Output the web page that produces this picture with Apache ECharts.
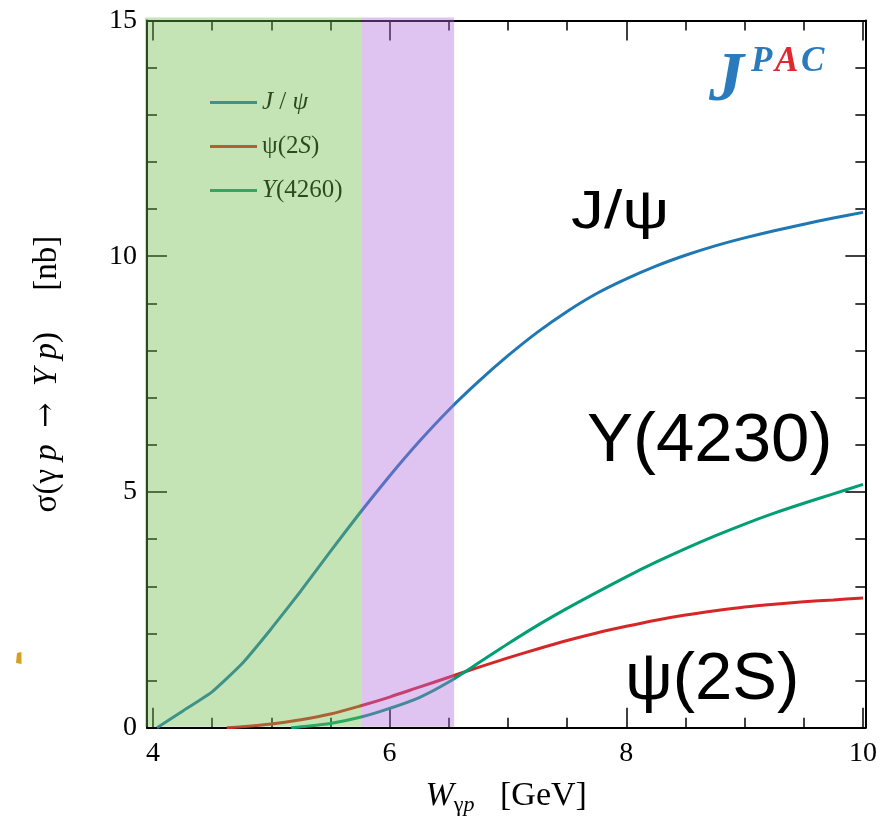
<!DOCTYPE html>
<html>
<head>
<meta charset="utf-8">
<script src="https://cdn.jsdelivr.net/npm/echarts@6/dist/echarts.min.js"></script>
<style>
  html, body { margin: 0; padding: 0; background: #fff; }
  #main { width: 880px; height: 829px; }
</style>
</head>
<body>
<div id="main"></div>
<script>
// Photoproduction cross sections sigma(gamma p -> Y p) [nb] versus W_gamma p [GeV]
const jpsiW = [4.035, 4.25, 4.5, 4.75, 5.0, 5.25, 5.5, 5.75, 6.0, 6.25, 6.5, 6.75, 7.0, 7.25, 7.5, 7.75, 8.0, 8.25, 8.5, 8.75, 9.0, 9.25, 9.5, 9.75, 10.0];
const jpsiSigma = [0, 0.35, 0.76, 1.35, 2.10, 2.90, 3.74, 4.56, 5.34, 6.07, 6.74, 7.34, 7.89, 8.39, 8.83, 9.21, 9.52, 9.79, 10.02, 10.22, 10.39, 10.54, 10.68, 10.81, 10.93];

const psi2sW = [4.624, 4.75, 5.0, 5.25, 5.5, 5.75, 6.0, 6.25, 6.5, 6.75, 7.0, 7.25, 7.5, 7.75, 8.0, 8.25, 8.5, 8.75, 9.0, 9.25, 9.5, 9.75, 10.0];
const psi2sSigma = [0, 0.02, 0.08, 0.17, 0.29, 0.46, 0.65, 0.86, 1.07, 1.28, 1.48, 1.67, 1.85, 2.01, 2.15, 2.28, 2.39, 2.48, 2.56, 2.62, 2.67, 2.71, 2.75];

const y4230W = [5.168, 5.25, 5.5, 5.75, 6.0, 6.25, 6.5, 6.75, 7.0, 7.25, 7.5, 7.75, 8.0, 8.25, 8.5, 8.75, 9.0, 9.25, 9.5, 9.75, 10.0];
const y4230Sigma = [0, 0.02, 0.09, 0.22, 0.41, 0.64, 0.97, 1.37, 1.78, 2.17, 2.53, 2.87, 3.20, 3.51, 3.80, 4.07, 4.32, 4.55, 4.76, 4.96, 5.16];

const seriesNames = ['J/ψ', 'ψ(2S)', 'Y(4260)'];
const seriesColors = ['#1f77b4', '#d62728', '#009e73'];
const seriesSmooth = [0.15, 0.3, 0.3];

// Shaded energy windows [W from, W to]
const bandLow = [3.95, 5.76];
const bandHigh = [5.76, 6.545];
const bandColors = ['rgba(110,188,70,0.4)', 'rgba(175,105,218,0.4)'];

const xMin = 3.95, xMax = 10.02;
const yMin = 0, yMax = 15;
const xMajorTicks = [4, 6, 8, 10];
const xMinorTicks = [4.5, 5, 5.5, 6.5, 7, 7.5, 8.5, 9, 9.5];

const SERIF = "'Liberation Serif', 'Times New Roman', serif";

const chart = echarts.init(document.getElementById('main'), null, { renderer: 'canvas' });

const pairs = (xs, ys) => xs.map((x, i) => [x, ys[i]]);

function xAxisDef(position, major) {
  return {
    type: 'value', position: position, min: xMin, max: xMax,
    axisLine: { show: major, onZero: false, lineStyle: { color: '#000', width: 2 } },
    axisTick: {
      show: true, inside: true, length: major ? 20 : 10,
      customValues: major ? xMajorTicks : xMinorTicks,
      lineStyle: { color: '#000', width: 1.5 }
    },
    axisLabel: (position === 'bottom' && major) ? {
      show: true, customValues: xMajorTicks, margin: 12,
      fontFamily: SERIF, fontSize: 28, color: '#000'
    } : { show: false },
    splitLine: { show: false }
  };
}

function yAxisDef(position) {
  return {
    type: 'value', position: position, min: yMin, max: yMax, interval: 5,
    axisLine: { show: true, onZero: false, lineStyle: { color: '#000', width: 2 } },
    axisTick: { show: true, inside: true, length: 20, lineStyle: { color: '#000', width: 1.5 } },
    minorTick: { show: true, splitNumber: 5, length: 10, lineStyle: { color: '#000', width: 1.5 } },
    axisLabel: position === 'left' ? {
      show: true, margin: 10, fontFamily: SERIF, fontSize: 28, color: '#000'
    } : { show: false },
    splitLine: { show: false },
    minorSplitLine: { show: false }
  };
}

const xAxes = [xAxisDef('bottom', true), xAxisDef('bottom', false), xAxisDef('top', true), xAxisDef('top', false)];
Object.assign(xAxes[0], {
  name: '{i|W}{s|γ}{si|p}{n|   [GeV]}',
  nameLocation: 'middle', nameGap: 48,
  nameTextStyle: {
    fontFamily: SERIF, fontSize: 34, color: '#000',
    rich: {
      i: { fontFamily: SERIF, fontSize: 34, fontStyle: 'italic', lineHeight: 40 },
      n: { fontFamily: SERIF, fontSize: 34, lineHeight: 40 },
      s: { fontFamily: SERIF, fontSize: 22, lineHeight: 40, padding: [20, 0, 0, 0] },
      si: { fontFamily: SERIF, fontSize: 22, fontStyle: 'italic', lineHeight: 40, padding: [20, 0, 0, 0] }
    }
  }
});

const yAxes = [yAxisDef('left'), yAxisDef('right')];
Object.assign(yAxes[0], {
  name: '{n|σ(γ }{i|p}{n|  }{a|→}{n|  }{i|Y}{n| }{i|p}{n|)     [nb]}',
  nameLocation: 'middle', nameGap: 82,
  nameTextStyle: {
    fontFamily: SERIF, fontSize: 33, color: '#000',
    rich: {
      i: { fontFamily: SERIF, fontSize: 33, fontStyle: 'italic', lineHeight: 36 },
      n: { fontFamily: SERIF, fontSize: 33, lineHeight: 36 },
      a: { fontFamily: "'DejaVu Serif', serif", fontSize: 30, lineHeight: 36 }
    }
  }
});

const legendRich = {
  i: { fontFamily: SERIF, fontSize: 25, fontStyle: 'italic', color: '#000', lineHeight: 24 },
  n: { fontFamily: SERIF, fontSize: 25, color: '#000', lineHeight: 24 }
};
const legendText = {
  'J/ψ': '{i|J}{n| / }{i|ψ}',
  'ψ(2S)': '{n|ψ(2}{i|S}{n|)}',
  'Y(4260)': '{i|Y}{n|(4260)}'
};

const lineSeries = [
  [jpsiW, jpsiSigma], [psi2sW, psi2sSigma], [y4230W, y4230Sigma]
].map((d, k) => ({
  type: 'line', name: seriesNames[k], xAxisIndex: 0, yAxisIndex: 0,
  data: pairs(d[0], d[1]),
  symbol: 'none', smooth: seriesSmooth[k], z: 3,
  lineStyle: { color: seriesColors[k], width: 3 },
  itemStyle: { color: seriesColors[k] }
}));

// Translucent bands laid over lines, legend and frame
const bandSeries = {
  type: 'custom', name: 'bands', xAxisIndex: 0, yAxisIndex: 0,
  z: 20, silent: true,
  data: bandLow.map((lo, i) => [lo, bandHigh[i], i]),
  encode: { x: [0, 1] },
  renderItem: function (params, api) {
    const i = api.value(2);
    const p0 = api.coord([api.value(0), yMax]);
    const p1 = api.coord([api.value(1), yMin]);
    const left = i === 0 ? p0[0] - 2 : p0[0];
    const top = p0[1] - 3;
    const bottom = p1[1] - 1;
    return {
      type: 'rect',
      shape: { x: left, y: top, width: p1[0] - left, height: bottom - top },
      style: { fill: bandColors[i] }
    };
  }
};

const option = {
  animation: false,
  backgroundColor: '#fff',
  grid: { left: 147, right: 14.5, top: 20.5, bottom: 101.3, containLabel: false },
  xAxis: xAxes,
  yAxis: yAxes,
  legend: {
    data: seriesNames,
    orient: 'vertical', left: 210, top: 90, padding: 0,
    icon: 'rect', itemWidth: 47, itemHeight: 3, itemGap: 19,
    formatter: name => legendText[name],
    textStyle: { fontFamily: SERIF, fontSize: 25, color: '#000', rich: legendRich }
  },
  series: lineSeries.concat([bandSeries]),
  graphic: [
    { type: 'text', left: 709, top: 47, z: 30,
      style: { text: 'J', font: "italic bold 70px 'Liberation Serif'", fill: '#2a7bbd' } },
    { type: 'text', left: 751, top: 44, z: 30,
      style: { text: 'P', font: "italic bold 35px 'Liberation Serif'", fill: '#2a7bbd' } },
    { type: 'text', left: 775, top: 44, z: 30,
      style: { text: 'A', font: "italic bold 35px 'Liberation Serif'", fill: '#e0282e' } },
    { type: 'text', left: 801, top: 44, z: 30,
      style: { text: 'C', font: "italic bold 35px 'Liberation Serif'", fill: '#2a7bbd' } },
    { type: 'text', left: 571, top: 186, z: 30, scaleX: 1.22,
      style: { text: 'J/ψ', font: "54px 'Liberation Sans'", fill: '#000' } },
    { type: 'text', left: 587, top: 407, z: 30,
      style: { text: 'Y(4230)', font: "69px 'Liberation Sans'", fill: '#000' } },
    { type: 'text', left: 625, top: 647, z: 30,
      style: { text: 'ψ(2S)', font: "67px 'Liberation Sans'", fill: '#000' } },
    { type: 'polygon', z: 30,
      shape: { points: [[17, 653], [21.5, 652], [21.5, 664], [16, 663]] },
      style: { fill: '#d4a020' } }
  ]
};

chart.setOption(option);
</script>
</body>
</html>
